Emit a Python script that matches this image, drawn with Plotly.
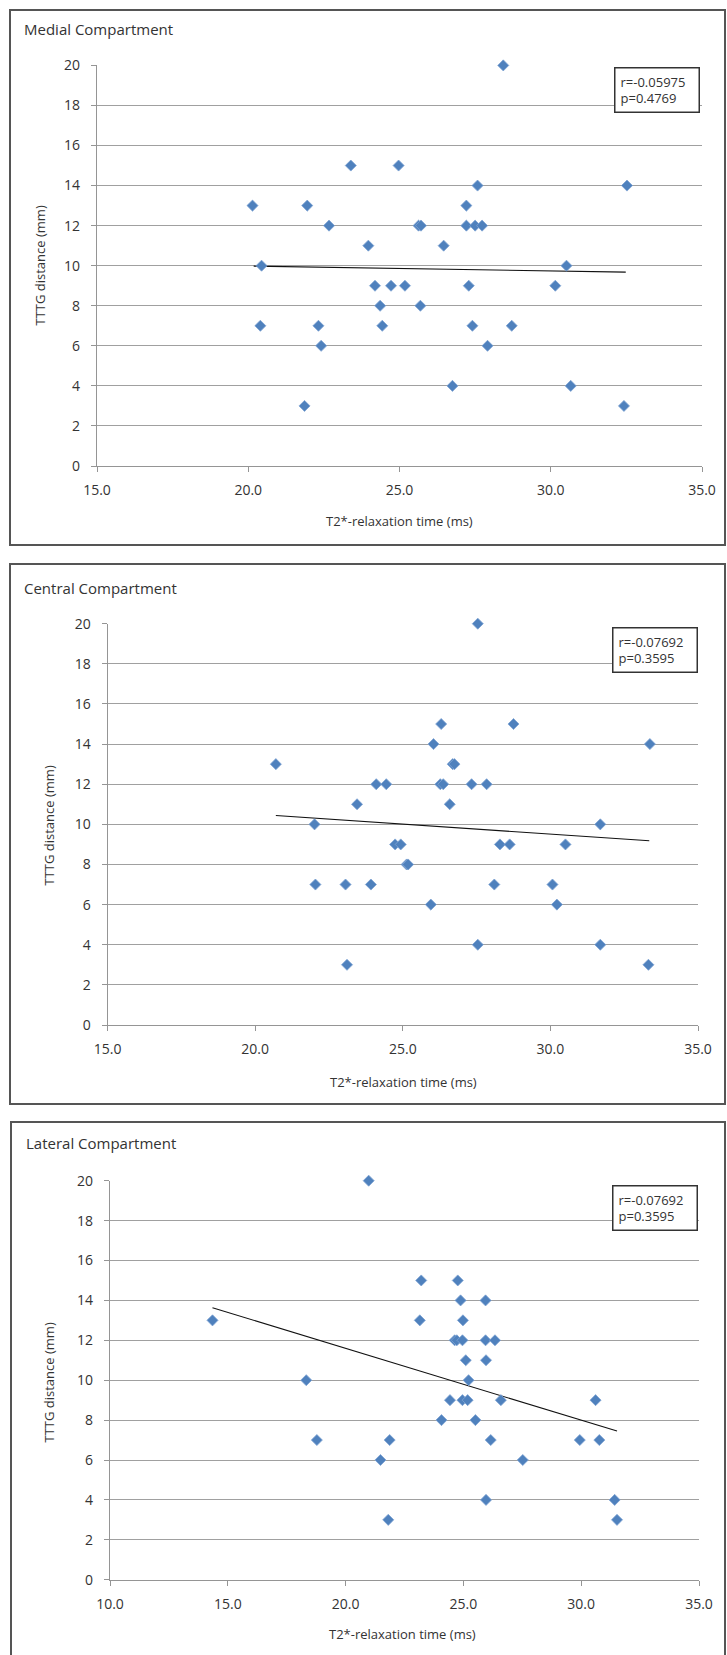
import plotly.graph_objects as go

# ---------------- data ----------------
panel_titles = ["Medial Compartment", "Central Compartment", "Lateral Compartment"]
x_title = "T2*-relaxation time (ms)"
y_title = "TTTG distance (mm)"
stats_r = ["r=-0.05975", "r=-0.07692", "r=-0.07692"]
stats_p = ["p=0.4769", "p=0.3595", "p=0.3595"]

medial_t2 = [28.43, 23.39, 24.97, 27.58, 32.52, 20.14, 21.95, 27.21, 22.67, 25.63,
             25.71, 27.21, 27.50, 27.73, 23.97, 26.46, 20.44, 30.52, 24.19, 24.72,
             25.18, 27.29, 30.15, 24.36, 25.69, 20.40, 22.32, 24.43, 27.41, 28.71,
             22.41, 27.91, 26.75, 30.66, 21.86, 32.42]
medial_tttg = [20, 15, 15, 14, 14, 13, 13, 13, 12, 12,
               12, 12, 12, 12, 11, 11, 10, 10, 9, 9,
               9, 9, 9, 8, 8, 7, 7, 7, 7, 7,
               6, 6, 4, 4, 3, 3]

central_t2 = [27.54, 26.30, 28.75, 26.04, 33.37, 20.70, 26.69, 26.75, 24.10, 24.44,
              26.27, 26.37, 27.33, 27.84, 23.45, 26.59, 22.01, 31.69, 24.74, 24.93,
              28.29, 28.62, 30.51, 25.13, 25.18, 22.04, 23.06, 23.92, 28.10, 30.07,
              25.95, 30.22, 27.54, 31.69, 23.11, 33.32]
central_tttg = [20, 15, 15, 14, 14, 13, 13, 13, 12, 12,
                12, 12, 12, 12, 11, 11, 10, 10, 9, 9,
                9, 9, 9, 8, 8, 7, 7, 7, 7, 7,
                6, 6, 4, 4, 3, 3]

lateral_t2 = [20.98, 23.21, 24.76, 24.88, 25.94, 14.35, 23.15, 24.98, 24.63, 24.72,
              24.96, 25.94, 26.34, 25.10, 25.96, 18.33, 25.22, 24.43, 24.96, 25.18,
              26.59, 30.61, 24.07, 25.51, 18.78, 21.87, 26.16, 29.94, 30.77, 21.48,
              27.52, 25.96, 31.42, 21.81, 31.52]
lateral_tttg = [20, 15, 15, 14, 14, 13, 13, 13, 12, 12,
                12, 12, 12, 11, 11, 10, 10, 9, 9, 9,
                9, 9, 8, 8, 7, 7, 7, 7, 7, 6,
                6, 4, 4, 3, 3]

# linear trend lines (end points)
medial_trend_x = [20.18, 32.48]
medial_trend_y = [9.98, 9.68]
central_trend_x = [20.70, 33.35]
central_trend_y = [10.44, 9.18]
lateral_trend_x = [14.35, 31.52]
lateral_trend_y = [13.63, 7.45]

x_ranges = [[15, 35], [15, 35], [10, 35]]
y_range = [0, 20]
y_ticks = [0, 2, 4, 6, 8, 10, 12, 14, 16, 18, 20]

# ---------------- layout geometry (pixels) ----------------
W, H = 727, 1655


def px(x):
    return x / W


def py(y):
    return 1 - y / H


panels = [
    dict(t2=medial_t2, tttg=medial_tttg, tx=medial_trend_x, ty=medial_trend_y,
         plot=(97, 702, 65.4, 466), box=(10, 725, 10, 545), title_xy=(22, 28.6),
         xt_xy=(399, 521), yt_xy=(39.5, 266), stat_box=(614, 67)),
    dict(t2=central_t2, tttg=central_tttg, tx=central_trend_x, ty=central_trend_y,
         plot=(107.6, 698, 623.7, 1025), box=(10, 725, 564, 1104), title_xy=(22, 588),
         xt_xy=(403, 1082), yt_xy=(48.5, 826), stat_box=(612, 626.5)),
    dict(t2=lateral_t2, tttg=lateral_tttg, tx=lateral_trend_x, ty=lateral_trend_y,
         plot=(110, 699, 1180.7, 1579.7), box=(11, 725, 1122, 1700), title_xy=(24, 1143),
         xt_xy=(402, 1634), yt_xy=(48.5, 1383), stat_box=(612, 1185)),
]

FONT = "Open Sans"
TXT = "#333333"
GRID = "#a0a0a0"
AXIS = "#959595"
MARK = "#4f81bd"

fig = go.Figure()
shapes = []
annotations = []

for i, p in enumerate(panels):
    n = "" if i == 0 else str(i + 1)
    xa, ya = "x" + n, "y" + n
    x0, x1, y0, y1 = p["plot"]

    fig.add_trace(go.Scatter(
        x=p["tx"], y=p["ty"], mode="lines", xaxis=xa, yaxis=ya,
        line=dict(color="#111111", width=1.1), hoverinfo="skip"))
    fig.add_trace(go.Scatter(
        x=p["t2"], y=p["tttg"], mode="markers", xaxis=xa, yaxis=ya,
        cliponaxis=False,
        marker=dict(symbol="diamond", size=8.5, color=MARK,
                    line=dict(color="#7fa3d3", width=0.8))))

    fig.update_layout(**{
        "xaxis" + n: dict(
            domain=[px(x0), px(x1)], range=x_ranges[i], anchor=ya,
            dtick=5, tick0=0, tickformat=".1f", showgrid=False, zeroline=False,
            showline=True, linecolor=AXIS, linewidth=1.2, automargin=False,
            ticks="outside", ticklen=5, tickcolor=AXIS, tickwidth=1,
            ticklabelstandoff=6,
            tickfont=dict(family=FONT, size=14, color=TXT)),
        "yaxis" + n: dict(
            domain=[py(y1), py(y0)], range=y_range, anchor=xa,
            tickvals=y_ticks, showgrid=True, gridcolor=GRID, gridwidth=1.2,
            zeroline=False, showline=True, linecolor=AXIS, linewidth=1.2,
            automargin=False,
            ticks="outside", ticklen=5, tickcolor=AXIS, tickwidth=1,
            ticklabelstandoff=8,
            tickfont=dict(family=FONT, size=14, color=TXT)),
    })

    bx0, bx1, by0, by1 = p["box"]
    shapes.append(dict(type="rect", xref="paper", yref="paper",
                       x0=px(bx0), x1=px(bx1), y0=py(by1), y1=py(by0),
                       line=dict(color="#555555", width=2), fillcolor="rgba(0,0,0,0)",
                       layer="above"))

    tx, ty = p["title_xy"]
    annotations.append(dict(text=panel_titles[i], xref="paper", yref="paper",
                            x=px(tx), y=py(ty), xanchor="left", yanchor="middle",
                            showarrow=False, font=dict(family=FONT, size=15, color=TXT)))
    ax, ay = p["xt_xy"]
    annotations.append(dict(text=x_title, xref="paper", yref="paper",
                            x=px(ax), y=py(ay), xanchor="center", yanchor="middle",
                            showarrow=False, font=dict(family=FONT, size=13, color=TXT)))
    yx, yy = p["yt_xy"]
    annotations.append(dict(text=y_title, xref="paper", yref="paper", textangle=-90,
                            x=px(yx), y=py(yy), xanchor="center", yanchor="middle",
                            showarrow=False, font=dict(family=FONT, size=13, color=TXT)))
    sx, sy = p["stat_box"]
    annotations.append(dict(text=stats_r[i] + "<br>" + stats_p[i], xref="paper", yref="paper",
                            x=px(sx), y=py(sy), xanchor="left", yanchor="top",
                            width=73, height=33, align="left", valign="middle",
                            borderpad=5, borderwidth=1.5, bordercolor="#333333",
                            bgcolor="white", showarrow=False,
                            font=dict(family=FONT, size=13, color=TXT)))

fig.update_layout(
    width=W, height=H, autosize=False,
    margin=dict(l=0, r=0, t=0, b=0, pad=0),
    paper_bgcolor="white", plot_bgcolor="white",
    showlegend=False, shapes=shapes, annotations=annotations,
)

fig.write_html("out.html", config={"displayModeBar": False},
               post_script="document.body.style.margin='0';"
                           "document.body.style.overflow='hidden';")
